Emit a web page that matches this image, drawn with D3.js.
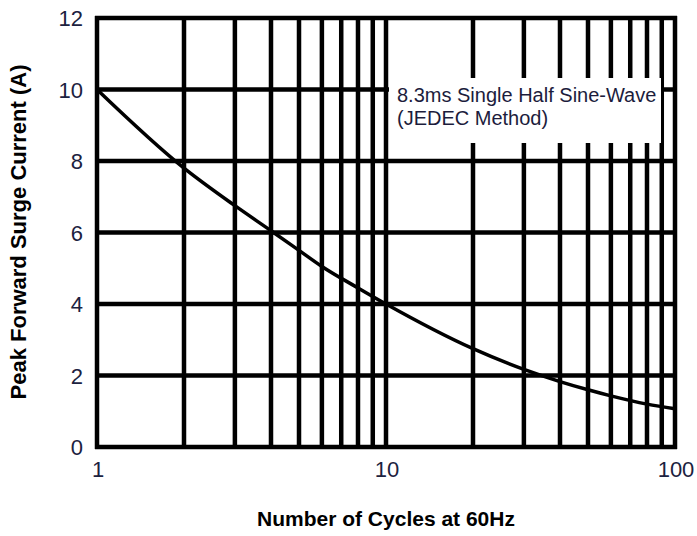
<!DOCTYPE html>
<html>
<head>
<meta charset="utf-8">
<script src="https://cdn.jsdelivr.net/npm/d3@7"></script>
<style>
  body { margin: 0; background: #fff; }
  text { font-family: "Liberation Sans", Arial, sans-serif; }
</style>
</head>
<body>
<svg id="chart" width="697" height="536"></svg>
<script>
// surge curve
var cycles = [1, 2, 3, 4, 5, 6, 8, 10, 20, 30, 40, 50, 60, 80, 100];
var current = [10, 7.8, 6.75, 6.05, 5.5, 5.05, 4.45, 4.0, 2.75, 2.17, 1.83, 1.6, 1.43, 1.2, 1.07];

var xGrid = [1, 2, 3, 4, 5, 6, 7, 8, 9, 10, 20, 30, 40, 50, 60, 70, 80, 90, 100];
var xTickLabels = [1, 10, 100];
var yTicks = [0, 2, 4, 6, 8, 10, 12];

var noteLines = ["8.3ms Single Half Sine-Wave", "(JEDEC Method)"];

/* ===================================
 *  SETUP
 * =================================== */
var svg = d3.select("#chart");
var plotLeft = 97, plotRight = 675, plotTop = 18, plotBottom = 447;

var x = d3.scaleLog().domain([1, 100]).range([plotLeft, plotRight]);
var y = d3.scaleLinear().domain([0, 12]).range([plotBottom, plotTop]);

var g = svg.append("g");

// grid lines
g.selectAll(".vgrid").data(xGrid).enter().append("line")
  .attr("x1", d => x(d)).attr("x2", d => x(d))
  .attr("y1", plotTop - 2).attr("y2", plotBottom + 2)
  .attr("stroke", "#000").attr("stroke-width", 4.5);

g.selectAll(".hgrid").data(yTicks).enter().append("line")
  .attr("x1", plotLeft - 2).attr("x2", plotRight + 2)
  .attr("y1", d => y(d)).attr("y2", d => y(d))
  .attr("stroke", "#000").attr("stroke-width", 4.5);

// white box for the note
g.append("rect")
  .attr("x", 389).attr("y", 78)
  .attr("width", 272).attr("height", 65)
  .attr("fill", "#fff");

// curve
var line = d3.line()
  .x((d, i) => x(cycles[i]))
  .y(d => y(d))
  .curve(d3.curveMonotoneX);

g.append("path")
  .datum(current)
  .attr("d", line)
  .attr("fill", "none")
  .attr("stroke", "#000")
  .attr("stroke-width", 3.5);

// note text
g.selectAll(".note").data(noteLines).enter().append("text")
  .attr("x", 397)
  .attr("y", (d, i) => 102 + i * 23)
  .attr("font-size", 20)
  .attr("fill", "#1c1c3c")
  .text(d => d);

// tick labels
g.selectAll(".ylab").data(yTicks).enter().append("text")
  .attr("x", 83)
  .attr("y", d => y(d) + 8)
  .attr("text-anchor", "end")
  .attr("font-size", 22)
  .attr("fill", "#1c2240")
  .text(d => d);

g.selectAll(".xlab").data(xTickLabels).enter().append("text")
  .attr("x", d => x(d) + 1)
  .attr("y", 477)
  .attr("text-anchor", "middle")
  .attr("font-size", 22)
  .attr("fill", "#1c2240")
  .text(d => d);

// axis titles
svg.append("text")
  .attr("x", 386).attr("y", 526)
  .attr("text-anchor", "middle")
  .attr("font-size", 21).attr("font-weight", "bold")
  .text("Number of Cycles at 60Hz");

svg.append("text")
  .attr("transform", "translate(26,232) rotate(-90)")
  .attr("text-anchor", "middle")
  .attr("font-size", 22).attr("font-weight", "bold")
  .text("Peak Forward Surge Current (A)");
</script>
</body>
</html>
